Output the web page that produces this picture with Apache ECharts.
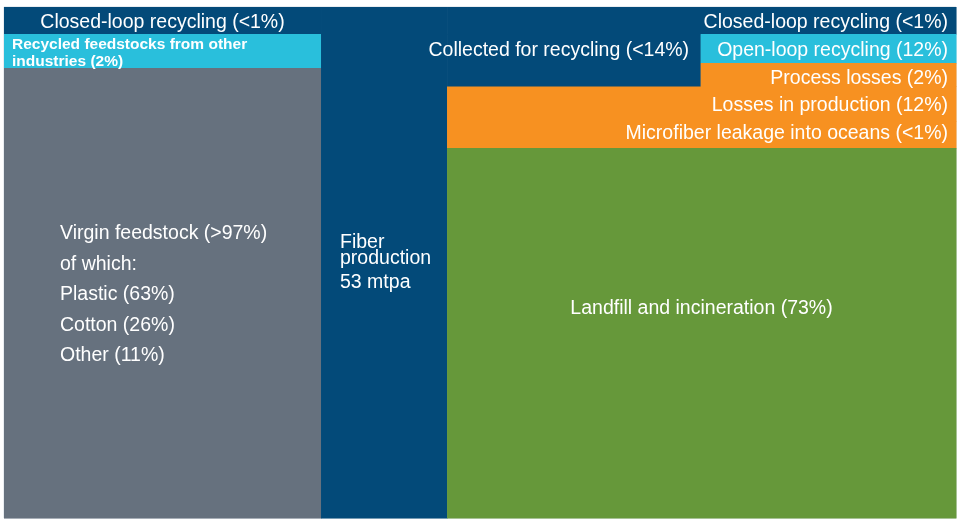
<!DOCTYPE html>
<html>
<head>
<meta charset="utf-8">
<script src="https://cdn.jsdelivr.net/npm/echarts@6/dist/echarts.min.js"></script>
<style>
html,body{margin:0;padding:0;background:#fff;}
#chart{width:960px;height:531px;}
</style>
</head>
<body>
<div id="chart"></div>
<script>
// ---- Data (block sizes, as share of total flow height) ----
const inputLabels = [
  'Closed-loop recycling (<1%)',
  'Recycled feedstocks from other\nindustries (2%)',
  'Virgin feedstock (>97%)\nof which:\nPlastic (63%)\nCotton (26%)\nOther (11%)'
];
const inputValues = [5.28, 6.65, 88.07];

const productionLabel = 'Fiber\nproduction';
const productionVolume = '53 mtpa';
const productionValue = 100;

const outputLabels = [
  'Closed-loop recycling (<1%)',
  'Open-loop recycling (12%)',
  'Process losses (2%)',
  'Losses in production (12%)',
  'Microfiber leakage into oceans (<1%)',
  'Landfill and incineration (73%)'
];
const outputValues = [5.28, 5.68, 4.50, 6.85, 5.28, 72.41];
const collectedLabel = 'Collected for recycling (<14%)';

// ---- Layout / style (not data) ----
const colWidths = [33.30, 13.24, 53.46];   // share of chart width
const collectedColWidth = 26.58;           // width of "collected" sub-column
const COLORS = {
  recycle: '#034a79',
  feed: '#29bfdc',
  virgin: '#66717e',
  loss: '#f79121',
  landfill: '#66983a'
};
const FONT = '"Liberation Sans", Arial, Helvetica, sans-serif';
const FS = 19.5;
const TEXT_DY = 1.8;

const inputColors = ['recycle', 'feed', 'virgin'];
const outputColors = ['recycle', 'feed', 'loss', 'loss', 'loss', 'landfill'];
const inputTextStyle = [
  {align: 'center'},
  {align: 'left', pad: 8, fontSize: 15.5, fontWeight: 'bold', lineHeight: 17},
  {align: 'left', pad: 56, lineHeight: 30.5}
];
const outputTextStyle = [
  {align: 'right', pad: 8},
  {align: 'right', pad: 8},
  {align: 'right', pad: 8, dy: 2},
  {align: 'right', pad: 8, dy: 0.5},
  {align: 'right', pad: 8, dy: -2.5},
  {align: 'center', dy: -26}
];

// ---- Build blocks: [x0, x1, y0, y1] in axis units ----
const blocks = [];
const meta = [];
(function build() {
  let x0 = 0, x1 = colWidths[0], y = 0;
  inputValues.forEach((v, i) => {
    blocks.push([x0, x1, y, y + v]);
    meta.push({color: COLORS[inputColors[i]], text: inputLabels[i], ts: inputTextStyle[i]});
    y += v;
  });
  x0 = x1; x1 = x0 + colWidths[1];
  blocks.push([x0, x1, 0, productionValue]);
  meta.push({color: COLORS.recycle, rich: true, ts: {align: 'left', pad: 19, dy: 2.5}});
  x0 = x1; x1 = x0 + colWidths[2];
  const xSplit = x0 + collectedColWidth;
  y = 0;
  outputValues.forEach((v, i) => {
    const left = (i === 1 || i === 2) ? xSplit : x0;
    blocks.push([left, x1, y, y + v]);
    meta.push({color: COLORS[outputColors[i]], text: outputLabels[i], ts: outputTextStyle[i]});
    y += v;
  });
  const collectedValue = outputValues[1] + outputValues[2];
  blocks.push([x0, xSplit, outputValues[0], outputValues[0] + collectedValue]);
  meta.push({color: COLORS.recycle, text: collectedLabel, ts: {align: 'right', pad: 11, dy: -11.5}});
})();

function renderItem(params, api) {
  const i = params.dataIndex;
  const p0 = api.coord([api.value(0), api.value(2)]);
  const p1 = api.coord([api.value(1), api.value(3)]);
  const x = Math.min(p0[0], p1[0]), y = Math.min(p0[1], p1[1]);
  const w = Math.abs(p1[0] - p0[0]), h = Math.abs(p1[1] - p0[1]);
  const m = meta[i];
  const children = [{
    type: 'rect',
    shape: {x: x, y: y, width: w + 0.5, height: h + 0.5},
    style: {fill: m.color},
    z2: i === blocks.length - 1 ? 5 : 1
  }];
  const ts = m.ts;
  let tx = x + w / 2;
  if (ts.align === 'left') tx = x + ts.pad;
  if (ts.align === 'right') tx = x + w - ts.pad;
  const ty = y + h / 2 + (ts.dy || 0) + TEXT_DY;
  if (m.rich) {
    children.push({
      type: 'text', x: tx, y: ty, z2: 10,
      style: {
        text: '{a|' + productionLabel.split('\n').join('}\n{a|') + '}\n{b|' + productionVolume + '}',
        align: 'left', verticalAlign: 'middle',
        rich: {
          a: {fill: '#fff', fontSize: FS, fontFamily: FONT, lineHeight: 16},
          b: {fill: '#fff', fontSize: FS, fontFamily: FONT, lineHeight: 32}
        }
      }
    });
  } else {
    children.push({
      type: 'text', x: tx, y: ty, z2: 10,
      style: {
        text: m.text, fill: '#fff',
        fontSize: ts.fontSize || FS, fontFamily: FONT,
        fontWeight: ts.fontWeight || 'normal',
        lineHeight: ts.lineHeight || 22,
        align: ts.align, verticalAlign: 'middle'
      }
    });
  }
  return {type: 'group', children: children};
}

const chart = echarts.init(document.getElementById('chart'), null, {renderer: 'canvas'});
chart.setOption({
  animation: false,
  backgroundColor: '#ffffff',
  grid: {left: 4, right: 4, top: 7, bottom: 13, show: true, borderColor: '#d3dbe3', borderWidth: 1},
  xAxis: {type: 'value', min: 0, max: 100, show: false},
  yAxis: {type: 'value', min: 0, max: 100, inverse: true, show: false},
  series: [{
    type: 'custom',
    renderItem: renderItem,
    encode: {x: [0, 1], y: [2, 3]},
    data: blocks,
    clip: false
  }]
});
</script>
</body>
</html>
